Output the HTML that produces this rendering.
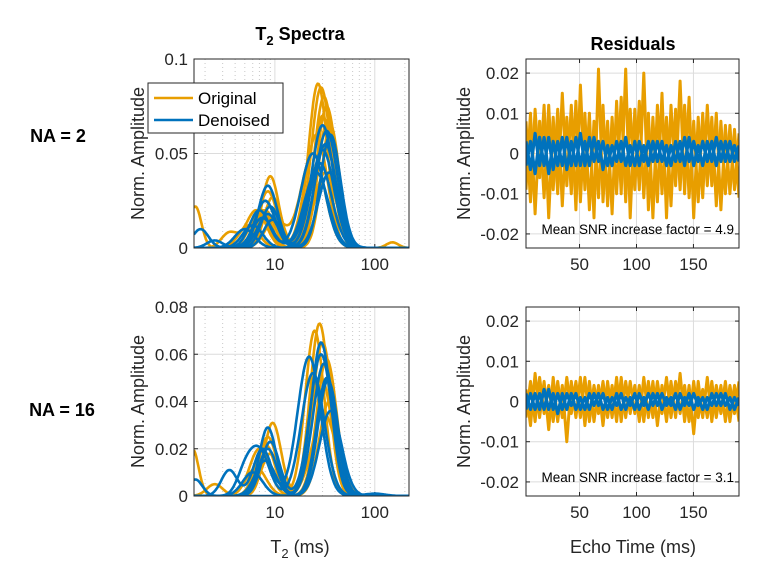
<!DOCTYPE html>
<html><head><meta charset="utf-8"><style>
body{margin:0;background:#fff;}
svg{display:block;font-family:"Liberation Sans",Arial,sans-serif;}
</style></head><body>
<svg id="fig" width="778" height="583" viewBox="0 0 778 583">
<text x="300" y="40" text-anchor="middle" font-size="18" font-weight="bold">T<tspan font-size="13" dy="5">2</tspan><tspan dy="-5"> Spectra</tspan></text>
<text x="633" y="50" text-anchor="middle" font-size="18" font-weight="bold">Residuals</text>
<text x="58" y="142" text-anchor="middle" font-size="18" font-weight="bold">NA = 2</text>
<text x="62" y="416" text-anchor="middle" font-size="18" font-weight="bold">NA = 16</text>
<text x="300" y="553" text-anchor="middle" font-size="18" fill="#262626">T<tspan font-size="13" dy="5">2</tspan><tspan dy="-5"> (ms)</tspan></text>
<text x="633" y="553" text-anchor="middle" font-size="18" fill="#262626">Echo Time (ms)</text>
<g id="plots"></g>
</svg>
<script>
// ---- data ----
const specTLOrig=[[[27,0.087,0.095],[9,0.038,0.085]],[[29,0.085,0.1],[8.5,0.03,0.095],[1.6,0.022,0.06]],[[31,0.08,0.1],[8,0.025,0.1]],[[33,0.075,0.1],[6.5,0.02,0.1],[3.5,0.008,0.08]],[[30,0.07,0.1],[9.5,0.027,0.085]],[[34,0.068,0.1],[7,0.018,0.1]],[[26,0.06,0.11],[8,0.02,0.09]],[[36,0.065,0.09],[5.5,0.012,0.1]],[[24,0.05,0.12],[10,0.015,0.1],[150,0.003,0.06]],[[32,0.04,0.11],[7.5,0.02,0.09]]];
const specTLDen=[[[30,0.065,0.11],[8.5,0.033,0.095]],[[33,0.062,0.11],[8,0.025,0.1]],[[36,0.06,0.1],[9,0.022,0.09]],[[24,0.05,0.12],[7,0.02,0.1],[1.8,0.01,0.08]],[[32,0.055,0.11],[6,0.012,0.1]],[[28,0.045,0.12],[8.5,0.018,0.1]],[[35,0.04,0.11],[9.5,0.015,0.09]],[[30,0.052,0.115],[5,0.01,0.1]],[[26,0.04,0.12],[7.5,0.016,0.1],[2.5,0.004,0.08]]];
const specBLOrig=[[[28,0.073,0.095],[9.5,0.031,0.085]],[[25,0.07,0.095],[8,0.022,0.095],[1.5,0.02,0.06]],[[30,0.065,0.1],[8.5,0.025,0.09]],[[33,0.058,0.1],[7,0.02,0.1]],[[29,0.05,0.11],[9,0.018,0.09],[2.5,0.005,0.08]],[[35,0.04,0.1],[6.5,0.012,0.1]],[[31,0.035,0.12],[8,0.015,0.1]]];
const specBLDen=[[[29,0.065,0.1],[8.5,0.029,0.085]],[[22,0.059,0.115],[7.5,0.02,0.09],[3.5,0.011,0.08]],[[29,0.06,0.11],[9,0.023,0.09]],[[24,0.052,0.115],[7,0.019,0.1],[5,0.009,0.08]],[[34,0.049,0.1],[8,0.015,0.1]],[[31,0.056,0.11],[6,0.01,0.1],[1.6,0.007,0.07]],[[36,0.036,0.11],[8.5,0.02,0.09]],[[33,0.05,0.1],[100,0.001,0.1]]];
const resTROrig=[[8,-12,11,-6,12,-16,9,-10,15,-8,12,-14,17,-9,10,-16,21,-12,8,-15,13,-10,21,-16,11,-9,20,-14,9,-12,15,-16,12,-8,18,-10,14,-16,9,-11,12,-8,10,-14,7,-10,6,-11],[-9,10,-15,8,-11,12,-9,11,-13,9,-10,13,-12,10,-14,8,-11,12,-13,9,-10,14,-12,11,-9,13,-11,10,-16,12,-10,9,-13,11,-9,12,-11,8,-12,10,-8,9,-13,8,-10,7,-9,5]];
const resTRDen=[[3,-4,5,-3,4,-5,3,-3,4,-4,3,-3,5,-3,4,-2,3,-4,2,-3,3,-2,4,-3,3,-3,2,-3,3,-2,3,-3,2,-2,3,-3,4,-3,2,-3,3,-2,4,-2,3,-2,2,-2],[-3,3,-5,4,-3,4,-4,3,-3,4,-3,4,-3,3,-3,4,-2,3,-3,2,-2,3,-3,2,-3,3,-2,3,-2,3,-2,2,-3,3,-2,4,-2,3,-2,3,-2,3,-3,3,-2,3,-2,2]];
const resBROrig=[[3,-6,7,-4,5,-7,6,-5,4,-10,5,-4,6,-6,5,-5,4,-6,5,-4,6,-5,5,-3,4,-5,6,-4,5,-6,4,-5,5,-4,7,-5,4,-8,5,-4,6,-5,4,-3,5,-5,4,-5],[-4,5,-5,6,-3,4,-5,5,-4,6,-3,5,-4,6,-5,4,-3,5,-4,4,-5,6,-4,5,-3,4,-5,5,-4,5,-3,6,-4,5,-3,4,-5,5,-4,3,-4,5,-4,4,-5,4,-3,5]];
const resBRDen=[[2,-2,2,-2,3,-2,2,-3,2,-2,2,-2,1,-2,2,-1,2,-2,1,-2,2,-2,1,-1,2,-2,1,-2,2,-1,2,-1,1,-2,2,-1,2,-2,1,-2,1,-1,2,-1,2,-2,1,-1],[-2,2,-2,2,-2,3,-2,2,-2,2,-1,2,-2,1,-2,2,-1,2,-2,1,-1,2,-2,1,-2,2,-1,2,-1,2,-2,1,-1,2,-2,1,-1,2,-1,1,-2,2,-1,2,-1,1,-2,1]];
const specYTicksTop=[0,0.05,0.1], specYLabelsTop=["0","0.05","0.1"];
const specYTicksBot=[0,0.02,0.04,0.06,0.08], specYLabelsBot=["0","0.02","0.04","0.06","0.08"];
const resYTicks=[-0.02,-0.01,0,0.01,0.02], resYLabels=["-0.02","-0.01","0","0.01","0.02"];
const resXTicks=[50,100,150];
const snrFactors=["4.9","3.1"];

const NS="http://www.w3.org/2000/svg";
const root=document.getElementById('plots');
const ORANGE="#E89E00", BLUE="#0072BD";
function mk(tag,attrs,parent){const e=document.createElementNS(NS,tag);for(const k in attrs)e.setAttribute(k,attrs[k]);(parent||root).appendChild(e);return e;}
function gauss(comps,t){let s=0;const lt=Math.log10(t);for(const c of comps){const d=(lt-Math.log10(c[0]))/c[2];s+=c[1]*Math.exp(-0.5*d*d);}return s;}

function axesFrame(name){
  const g=mk('g',{});
  
  
  return g;
}
function clip(id,x0,y0,x1,y1){const cp=mk('clipPath',{id:id});mk('rect',{x:x0,y:y0,width:x1-x0,height:y1-y0},cp);return 'url(#'+id+')';}

function spectraPanel(x0,y0,x1,y1,ymax,yt,yl,orig,den,id){
  const xmin=Math.log10(1.55), xmax=Math.log10(220);
  const X=t=>x0+(Math.log10(t)-xmin)/(xmax-xmin)*(x1-x0);
  const Y=v=>y1-v/ymax*(y1-y0);
  const g=axesFrame(id);
  for(let d=1;d<=100;d*=10)for(let m=1;m<10;m++){const t=d*m;if(t<1.55||t>220)continue;const xx=X(t);
    if(m===1){const l=mk('line',{x1:xx,x2:xx,y1:y0,y2:y1,stroke:"#dcdcdc","stroke-width":1},g);}
    else{const l=mk('line',{x1:xx,x2:xx,y1:y0,y2:y1,stroke:"#c8c8c8","stroke-width":1,"stroke-dasharray":"1,3"},g);}}
  yt.forEach((v,i)=>{const yy=Y(v);
    const l=mk('line',{x1:x0,x2:x1,y1:yy,y2:yy,stroke:"#dcdcdc","stroke-width":1},g);
    mk('line',{x1:x0,x2:x0+4,y1:yy,y2:yy,stroke:"#262626"},g);mk('line',{x1:x1,x2:x1-4,y1:yy,y2:yy,stroke:"#262626"},g);
    const tx=mk('text',{x:x0-6,y:yy+6,"text-anchor":"end","font-size":17,fill:"#262626"},g);tx.textContent=yl[i];
    });
  [10,100].forEach(t=>{const xx=X(t);mk('line',{x1:xx,x2:xx,y1:y1,y2:y1-4,stroke:"#262626"},g);
    const tx=mk('text',{x:xx,y:y1+22,"text-anchor":"middle","font-size":17,fill:"#262626"},g);tx.textContent=String(t);
    });
  const cg=mk('g',{"clip-path":clip('c'+id,x0,y0,x1,y1)},g);
  function draw(set,col,nm){set.forEach(comps=>{let d="";for(let i=0;i<=200;i++){const t=Math.pow(10,xmin+(xmax-xmin)*i/200);d+=(i?"L":"M")+X(t).toFixed(1)+","+Y(gauss(comps,t)).toFixed(1);}
    const p=mk('path',{d:d,fill:"none",stroke:col,"stroke-width":2.6,"stroke-linejoin":"round"},cg);
    });}
  draw(orig,ORANGE,'original-spectrum');draw(den,BLUE,'denoised-spectrum');
  const b=mk('rect',{x:x0,y:y0,width:x1-x0,height:y1-y0,fill:"none",stroke:"#262626","stroke-width":1},g);
  
  const yl2=mk('text',{x:0,y:0,"text-anchor":"middle","font-size":18,fill:"#262626",transform:`translate(${x0-50},${(y0+y1)/2}) rotate(-90)`},g);
  yl2.textContent="Norm. Amplitude";
}

function residPanel(x0,y0,x1,y1,orig,den,id,snr){
  const xmin=3,xmax=190,ymin=-0.0235,ymax=0.0235;
  const X=v=>x0+(v-xmin)/(xmax-xmin)*(x1-x0);
  const Y=v=>y1-(v-ymin)/(ymax-ymin)*(y1-y0);
  const g=axesFrame(id);
  resXTicks.forEach(t=>{const xx=X(t);
    const l=mk('line',{x1:xx,x2:xx,y1:y0,y2:y1,stroke:"#dcdcdc"},g);
    mk('line',{x1:xx,x2:xx,y1:y1,y2:y1-4,stroke:"#262626"},g);mk('line',{x1:xx,x2:xx,y1:y0,y2:y0+4,stroke:"#262626"},g);
    const tx=mk('text',{x:xx,y:y1+22,"text-anchor":"middle","font-size":17,fill:"#262626"},g);tx.textContent=String(t);
    });
  resYTicks.forEach((v,i)=>{const yy=Y(v);
    const l=mk('line',{x1:x0,x2:x1,y1:yy,y2:yy,stroke:"#dcdcdc"},g);
    mk('line',{x1:x0,x2:x0+4,y1:yy,y2:yy,stroke:"#262626"},g);mk('line',{x1:x1,x2:x1-4,y1:yy,y2:yy,stroke:"#262626"},g);
    const tx=mk('text',{x:x0-7,y:yy+6,"text-anchor":"end","font-size":17,fill:"#262626"},g);tx.textContent=resYLabels[i];
    });
  const cg=mk('g',{"clip-path":clip('c'+id,x0,y0,x1,y1)},g);
  function draw(set,col,nm,w){set.forEach(vals=>{let d="";vals.forEach((v,i)=>{const xv=xmin+(xmax-xmin)*i/(vals.length-1);d+=(i?"L":"M")+X(xv).toFixed(1)+","+Y(v/1000).toFixed(1);});
    const p=mk('path',{d:d,fill:"none",stroke:col,"stroke-width":w,"stroke-linejoin":"round"},cg);
    });}
  draw(orig,ORANGE,'original-residual',3);draw(den,BLUE,'denoised-residual',3.2);
  const b=mk('rect',{x:x0,y:y0,width:x1-x0,height:y1-y0,fill:"none",stroke:"#262626"},g);
  
  const an=mk('text',{x:x1-5,y:y1-14,"text-anchor":"end","font-size":13.5,fill:"#000"},g);
  an.textContent="Mean SNR increase factor = "+snr;
  const yl2=mk('text',{x:0,y:0,"text-anchor":"middle","font-size":18,fill:"#262626",transform:`translate(${x0-56},${(y0+y1)/2}) rotate(-90)`},g);
  yl2.textContent="Norm. Amplitude";
}

spectraPanel(194,59,409,248,0.1,specYTicksTop,specYLabelsTop,specTLOrig,specTLDen,'spectra-na2');
spectraPanel(194,307,409,496,0.08,specYTicksBot,specYLabelsBot,specBLOrig,specBLDen,'spectra-na16');
residPanel(526,59,739,248,resTROrig,resTRDen,'residuals-na2',snrFactors[0]);
residPanel(526,307,739,496,resBROrig,resBRDen,'residuals-na16',snrFactors[1]);
spectraLegend();
function spectraLegend(){
  const lg=mk('g',{});
  
  
  mk('rect',{x:148,y:83,width:135,height:50,fill:"#fff",stroke:"#262626"},lg);
  [["Original",ORANGE,98],["Denoised",BLUE,120]].forEach(e=>{const eg=mk('g',{},lg);
    
    
    mk('line',{x1:154,x2:193,y1:e[2],y2:e[2],stroke:e[1],"stroke-width":2.6},eg);
    const t=mk('text',{x:198,y:e[2]+6,"font-size":17,fill:"#000"},eg);t.textContent=e[0];});
}
</script>
</body></html>
